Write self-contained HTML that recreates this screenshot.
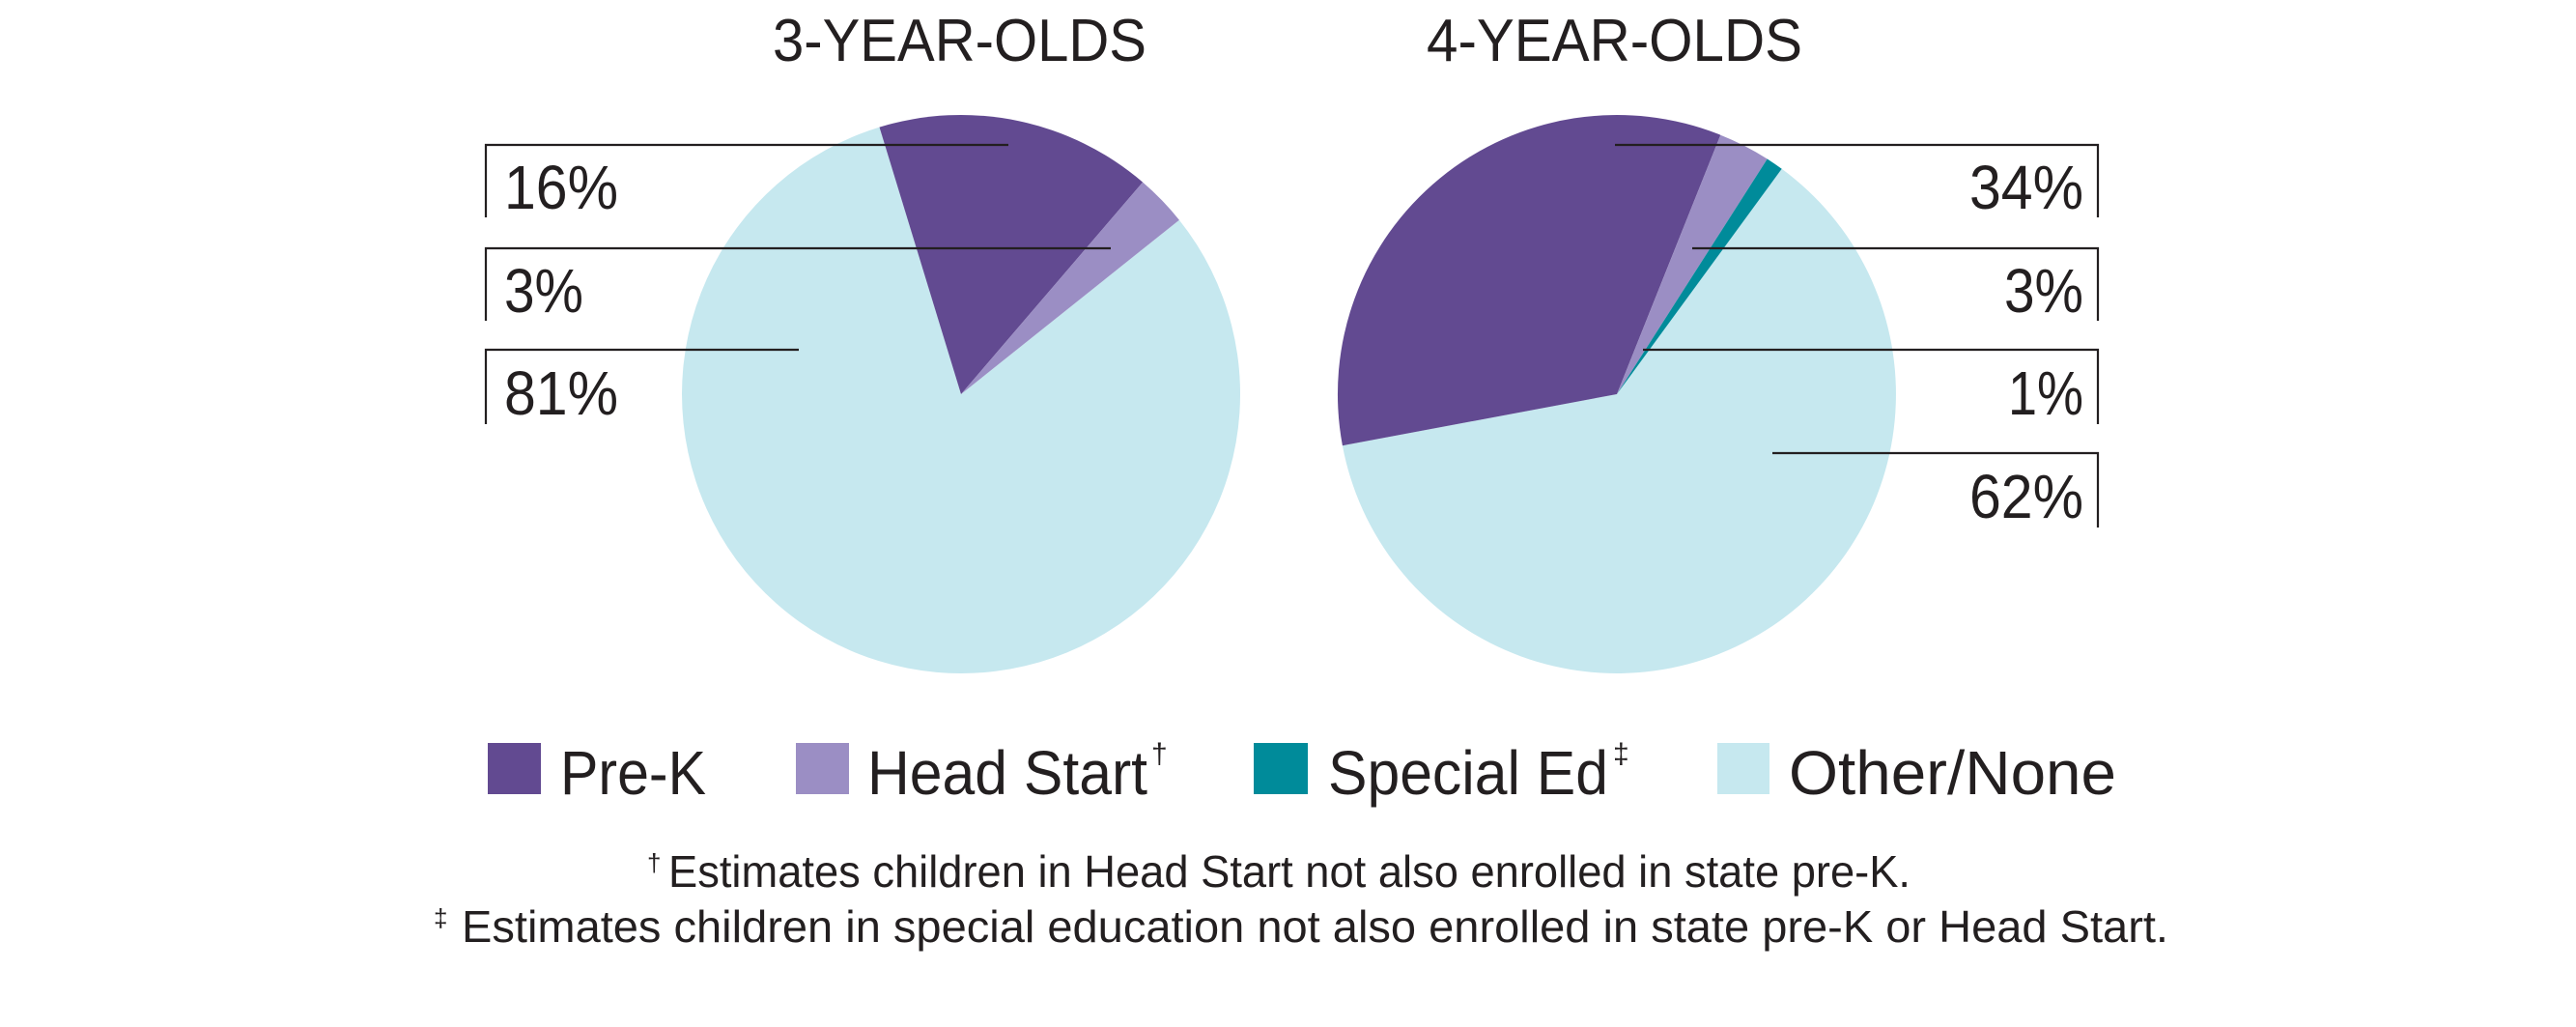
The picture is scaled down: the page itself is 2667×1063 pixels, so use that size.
<!DOCTYPE html>
<html><head><meta charset="utf-8"><style>html,body{margin:0;padding:0;background:#fff}svg{display:block}</style></head>
<body>
<svg width="2667" height="1063" viewBox="0 0 2667 1063" xmlns="http://www.w3.org/2000/svg" font-family="Liberation Sans, sans-serif" fill="#231f20">
<rect width="2667" height="1063" fill="#fff"/>
<text x="800" y="63" font-size="62" textLength="387" lengthAdjust="spacingAndGlyphs">3-YEAR-OLDS</text>
<text x="1477" y="63" font-size="62" textLength="389" lengthAdjust="spacingAndGlyphs">4-YEAR-OLDS</text>
<!-- pie 1 -->
<path d="M995,408 L1220.9,227.7 A289,289 0 1 1 910.5,131.6 Z" fill="#c6e8ef"/>
<path d="M995,408 L910.5,131.6 A289,289 0 0 1 1183.1,188.6 Z" fill="#624a91"/>
<path d="M995,408 L1183.1,188.6 A289,289 0 0 1 1220.9,227.7 Z" fill="#9b8ec4"/>
<!-- pie 2 -->
<path d="M1674,408 L1844.7,174.8 A289,289 0 1 1 1389.9,461.2 Z" fill="#c6e8ef"/>
<path d="M1674,408 L1389.9,461.2 A289,289 0 0 1 1781.3,139.7 Z" fill="#624a91"/>
<path d="M1674,408 L1781.3,139.7 A289,289 0 0 1 1829.7,164.5 Z" fill="#9b8ec4"/>
<path d="M1674,408 L1829.7,164.5 A289,289 0 0 1 1844.7,174.8 Z" fill="#008b9a"/>
<g stroke="#231f20" stroke-width="2.2" fill="none">
<path d="M503,225 V150 H1044"/>
<path d="M503,332 V257 H1150"/>
<path d="M503,439 V362 H827"/>
<path d="M2172,225 V150 H1672"/>
<path d="M2172,332 V257 H1752"/>
<path d="M2172,439 V362 H1701"/>
<path d="M2172,546 V469 H1835"/>
</g>
<g font-size="64">
<text x="522" y="216" textLength="118" lengthAdjust="spacingAndGlyphs">16%</text>
<text x="522" y="323" textLength="82" lengthAdjust="spacingAndGlyphs">3%</text>
<text x="522" y="429" textLength="118" lengthAdjust="spacingAndGlyphs">81%</text>
<text x="2157" y="216" text-anchor="end" textLength="118" lengthAdjust="spacingAndGlyphs">34%</text>
<text x="2157" y="323" text-anchor="end" textLength="82" lengthAdjust="spacingAndGlyphs">3%</text>
<text x="2157" y="429" text-anchor="end" textLength="78" lengthAdjust="spacingAndGlyphs">1%</text>
<text x="2157" y="536" text-anchor="end" textLength="118" lengthAdjust="spacingAndGlyphs">62%</text>
</g>
<!-- legend -->
<rect x="505" y="769" width="55" height="53" fill="#624a91"/>
<rect x="824" y="769" width="55" height="53" fill="#9b8ec4"/>
<rect x="1298" y="769" width="56" height="53" fill="#008b9a"/>
<rect x="1778" y="769" width="54" height="53" fill="#c6e8ef"/>
<g font-size="64">
<text x="580" y="822" textLength="151" lengthAdjust="spacingAndGlyphs">Pre-K</text>
<text x="898" y="822" textLength="290" lengthAdjust="spacingAndGlyphs">Head Start</text>
<text x="1192" y="790" font-size="30">†</text>
<text x="1375" y="822" textLength="290" lengthAdjust="spacingAndGlyphs">Special Ed</text>
<text x="1670" y="790" font-size="30">‡</text>
<text x="1852" y="822" textLength="339" lengthAdjust="spacingAndGlyphs">Other/None</text>
</g>
<g font-size="46">
<text x="670" y="918" font-size="26" dy="-16">†</text>
<text x="692" y="918" textLength="1286" lengthAdjust="spacingAndGlyphs">Estimates children in Head Start not also enrolled in state pre-K.</text>
<text x="449" y="975" font-size="26" dy="-16">‡</text>
<text x="478" y="975" textLength="1767" lengthAdjust="spacingAndGlyphs">Estimates children in special education not also enrolled in state pre-K or Head Start.</text>
</g>
</svg>
</body></html>
